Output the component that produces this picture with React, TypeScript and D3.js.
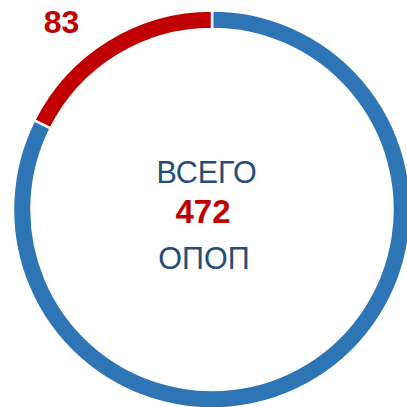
import React, { useEffect, useRef } from 'react';
import * as d3 from 'd3';

const categories = ['Остальные', 'Выделенные'];
const values = [389, 83];
const colors = ['#2E75B6', '#C00000'];
const totalLabel = ['ВСЕГО', 'ОПОП'];

export default function App() {
  const svgRef = useRef<SVGSVGElement>(null);

  useEffect(() => {
    if (!svgRef.current) return;
    const svg = d3.select(svgRef.current);
    svg.selectAll('*').remove();

    const cx = 212;
    const cy = 209.5;
    const outer = 199;
    const inner = 180.5;
    const total = d3.sum(values);

    const data = categories.map((c, i) => ({ name: c, value: values[i], color: colors[i] }));
    const pie = d3.pie<any>().sort(null).value(d => d.value).startAngle(0).endAngle(2 * Math.PI);
    const arc = d3.arc<any>().innerRadius(inner).outerRadius(outer);

    const g = svg.append('g').attr('transform', `translate(${cx},${cy})`);

    g.selectAll('path')
      .data(pie(data))
      .enter()
      .append('path')
      .attr('d', arc)
      .attr('fill', d => d.data.color)
      .attr('stroke', '#fff')
      .attr('stroke-width', 2.5);

    // value label of the red slice
    svg.append('text')
      .attr('x', 61.5)
      .attr('y', 32.5)
      .attr('text-anchor', 'middle')
      .attr('font-family', 'Liberation Sans, Arial, sans-serif')
      .attr('font-weight', 'bold')
      .attr('font-size', 32)
      .attr('fill', colors[1])
      .text(String(values[1]));

    const font = 'Liberation Sans, Arial, sans-serif';
    svg.append('text')
      .attr('x', 206.5)
      .attr('y', 183)
      .attr('text-anchor', 'middle')
      .attr('font-family', font)
      .attr('font-size', 30.5)
      .attr('fill', '#244E77')
      .text(totalLabel[0]);

    svg.append('text')
      .attr('x', 203)
      .attr('y', 223)
      .attr('text-anchor', 'middle')
      .attr('font-family', font)
      .attr('font-weight', 'bold')
      .attr('font-size', 33)
      .attr('fill', colors[1])
      .text(String(total));

    svg.append('text')
      .attr('x', 204)
      .attr('y', 268.5)
      .attr('text-anchor', 'middle')
      .attr('font-family', font)
      .attr('font-size', 30.5)
      .attr('fill', '#244E77')
      .text(totalLabel[1]);
  }, []);

  return (
    <svg
      ref={svgRef}
      width={407}
      height={407}
      style={{ position: 'absolute', left: 0, top: 0, background: '#fff' }}
    />
  );
}
